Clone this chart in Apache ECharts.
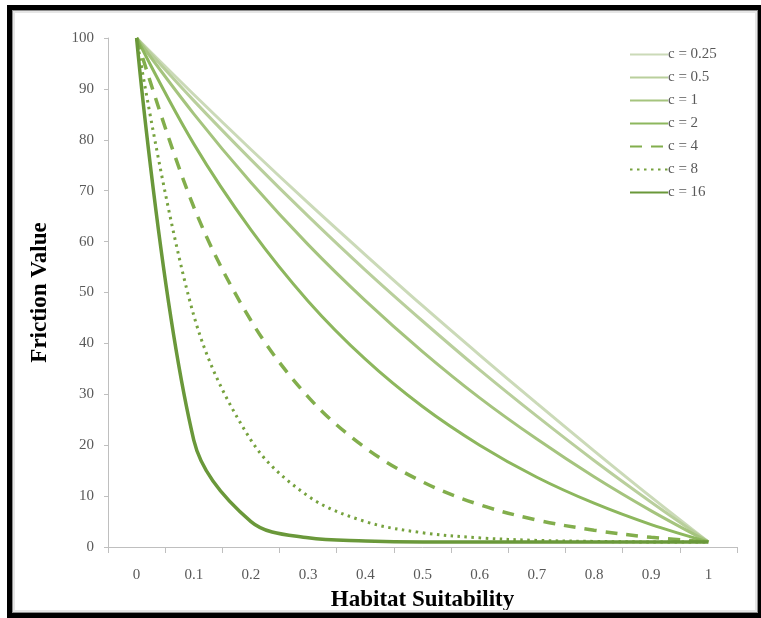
<!DOCTYPE html>
<html>
<head>
<meta charset="utf-8">
<script src="https://cdn.jsdelivr.net/npm/echarts@6/dist/echarts.min.js"></script>
<style>
  html, body { margin: 0; padding: 0; background: #fff; }
  #chart { position: absolute; left: 0; top: 0; width: 761px; height: 618px; }
  #frame {
    position: absolute; left: 7px; top: 5px; width: 746px; height: 603px;
    border: 5px solid #000; pointer-events: none;
    box-shadow: inset 0 0 0 1px #8c8c8c, inset 0 0 0 3px #e6e6e6;
  }
</style>
</head>
<body>
<div id="chart"></div>
<div id="frame"></div>
<script>
// habitat suitability categories
const xLabels = ["0", "0.1", "0.2", "0.3", "0.4", "0.5", "0.6", "0.7", "0.8", "0.9", "1"];
// friction values, one list per c
const c025 = [100, 88.9, 78.1, 67.6, 57.4, 47.4, 37.7, 28.2, 18.9, 9.8, 1];
const c05 = [100, 87.7, 76.1, 65.0, 54.4, 44.4, 34.8, 25.7, 17.0, 8.8, 1];
const c1 = [100, 85.1, 71.6, 59.4, 48.4, 38.4, 29.3, 21.2, 13.8, 7.1, 1];
const c2 = [100, 79.2, 62.3, 48.3, 36.9, 27.6, 20.0, 13.7, 8.6, 4.4, 1];
const c4 = [100, 66.8, 44.5, 29.5, 19.5, 12.8, 8.3, 5.3, 3.3, 1.9, 1];
const c8 = [100, 45.5, 21.0, 10.0, 5.0, 2.8, 1.8, 1.3, 1.1, 1.0, 1];
const c16 = [100, 21.0, 5.0, 1.8, 1.2, 1.0, 1.0, 1.0, 1.0, 1.0, 1];
const names = ["c = 0.25", "c = 0.5", "c = 1", "c = 2", "c = 4", "c = 8", "c = 16"];

const serif = "Liberation Serif";
const grey = "#595959";

var myChart = echarts.init(document.getElementById("chart"));

function line(name, data, color, width, type) {
  return {
    name: name,
    type: "line",
    data: data,
    smooth: 0.35,
    symbol: "none",
    lineStyle: { color: color, width: width, type: type || "solid" },
    itemStyle: { color: color },
  };
}

var option = {
  animation: false,
  grid: { left: 108, right: 24, top: 38, bottom: 71 },
  legend: {
    orient: "vertical",
    left: 624,
    top: 42,
    itemWidth: 38,
    itemHeight: 14,
    itemGap: 8,
    data: names,
    itemStyle: { opacity: 0 },
    textStyle: { fontFamily: serif, fontSize: 15, color: grey, padding: [0, 0, 0, -5] },
  },
  xAxis: {
    type: "category",
    data: xLabels,
    boundaryGap: true,
    name: "Habitat Suitability",
    nameLocation: "middle",
    nameGap: 42,
    nameTextStyle: { fontFamily: serif, fontSize: 23, fontWeight: "bold", color: "#000" },
    axisLine: { lineStyle: { color: "#bfbfbf", width: 1 } },
    axisTick: { show: true, length: 6, lineStyle: { color: "#bfbfbf" } },
    axisLabel: { fontFamily: serif, fontSize: 15, color: grey, margin: 21 },
    splitLine: { show: false },
  },
  yAxis: {
    type: "value",
    min: 0,
    max: 100,
    interval: 10,
    name: "Friction Value",
    nameLocation: "middle",
    nameGap: 56,
    nameTextStyle: { fontFamily: serif, fontSize: 23, fontWeight: "bold", color: "#000" },
    axisLine: { show: true, lineStyle: { color: "#bfbfbf", width: 1 } },
    axisTick: { show: true, length: 4, lineStyle: { color: "#bfbfbf" } },
    axisLabel: { fontFamily: serif, fontSize: 15, color: grey, margin: 14 },
    splitLine: { show: false },
  },
  series: [
    line(names[0], c025, "#cbdab8", 3),
    line(names[1], c05, "#b9cf9c", 3),
    line(names[2], c1, "#a5c47e", 3),
    line(names[3], c2, "#8db75e", 3),
    line(names[4], c4, "#82ae4c", 3.5, [12, 9]),
    line(names[5], c8, "#76a23e", 3, [2.5, 4.5]),
    line(names[6], c16, "#6a983a", 3.5),
  ],
};
myChart.setOption(option);
</script>
</body>
</html>
